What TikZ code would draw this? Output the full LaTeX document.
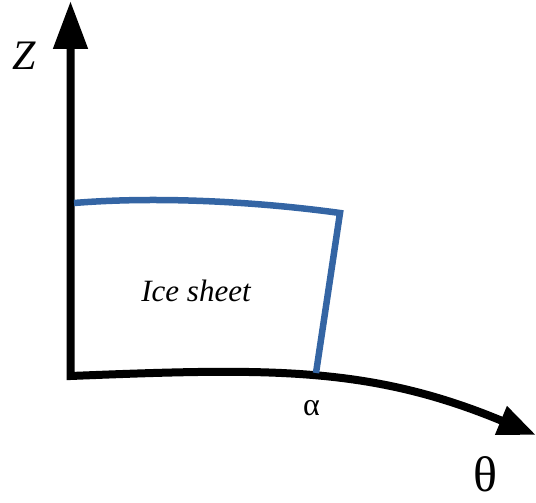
\documentclass[tikz,border=0pt]{standalone}
\usepackage{fontspec}
\setmainfont{Liberation Serif}
\usetikzlibrary{arrows.meta}
\definecolor{iceblue}{HTML}{3465A4}
\begin{document}
\begin{tikzpicture}[x=1pt,y=-1pt,
  axis/.style={line width=8pt, line join=miter, black},
  sheet/.style={line width=6.5pt, line join=miter, iceblue},
  lbl/.style={inner sep=0pt, anchor=center}]
\useasboundingbox (0,0) rectangle (536,503);
\coordinate (ztip) at (70.5,1);
\coordinate (origin) at (70.5,376);
\coordinate (thtip) at (536,435);
\coordinate (tl) at (74,203);
\coordinate (tr) at (340,213);
\coordinate (br) at (316,373);
\draw[axis, {Triangle[length=48pt,width=33pt]}-{Triangle[length=38pt,width=29pt]}]
  (ztip) -- (origin) .. controls (270,368) and (370,366) .. (thtip);
\draw[sheet] (tl) .. controls (160,196) and (260,202) .. (tr) -- (br);
\node[lbl, font=\fontsize{42}{42}\selectfont\itshape] (zl) at (24,56) {Z};
\node[lbl, font=\fontsize{31}{31}\selectfont\itshape] (ice) at (196,291) {Ice sheet};
\node[lbl, font=\fontsize{32}{32}\selectfont] (al) at (311.5,408.5) {α};
\node[lbl, font=\fontsize{50}{50}\selectfont] (th) at (485,474.5) {θ};
\end{tikzpicture}
\end{document}
